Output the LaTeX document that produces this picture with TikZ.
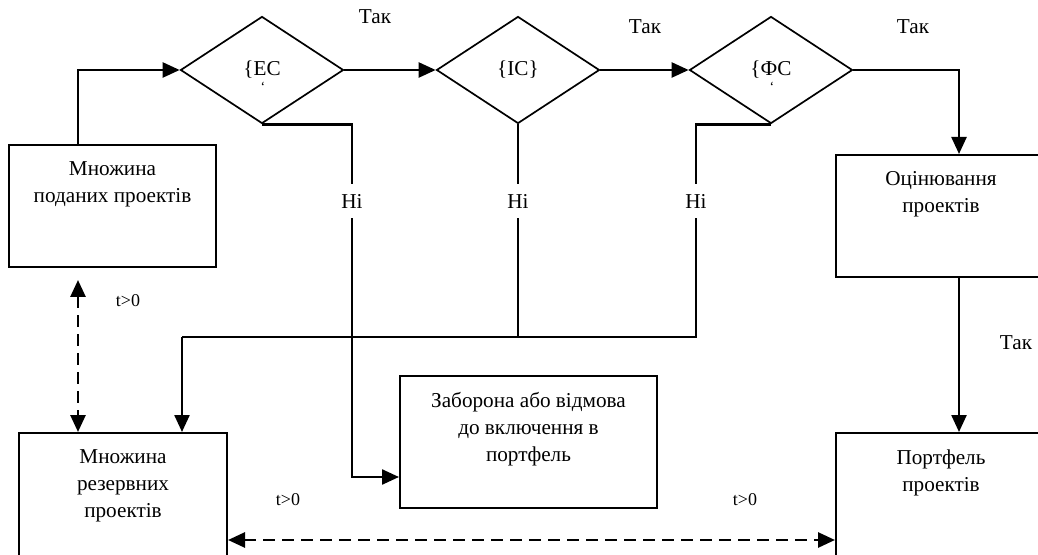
\documentclass[tikz,border=0pt]{standalone}
\usepackage{fontspec}
\setmainfont{Liberation Serif}
\usetikzlibrary{shapes.geometric,arrows.meta,fit}
\tikzset{
    box/.style={draw,line width=1pt,inner sep=0pt},
    boxtext/.style={anchor=north,align=center,inner sep=0pt,yshift=-8.5pt,
        font=\fontsize{10.6}{13.5}\selectfont},
    check/.style={
        diamond,
        draw,
        line width=0.85pt,
        minimum width=81.5pt,
        minimum height=53.5pt,
        inner sep=0pt,
        font=\fontsize{10.6}{12}\selectfont
    },
    wire/.style={line width=1.2pt},
    flow/.style={line width=1.2pt,-{Triangle[length=8.5pt,width=7.5pt]}},
    timed/.style={line width=1.4pt,dash pattern=on 6pt off 3.5pt,
        {Triangle[length=8.5pt,width=7.5pt]}-{Triangle[length=8.5pt,width=7.5pt]}},
    yes/.style={font=\fontsize{10.6}{12}\selectfont,inner sep=0pt},
    no/.style={font=\fontsize{10.6}{12}\selectfont,fill=white,inner xsep=1pt,inner ysep=5pt},
    tick/.style={font=\fontsize{9}{10}\selectfont,inner sep=0pt}
}
\newcommand{\block}[6] {
    \node[box,fit={(#2,#3) (#4,#5)}] (#1) {};
    \node[boxtext] (#1txt) at (#1.north) {#6};
}

\begin{document}
\begin{tikzpicture}[x=0.5pt,y=-0.5pt]
    \clip (0,0) rectangle (1038,555);
    % blocks
    \block{sub}{9}{145}{216}{267}{Множина\\поданих проектів}
    \block{assess}{836}{155}{1046}{277}{Оцінювання\\проектів}
    \block{reserve}{19}{433}{227}{570}{Множина\\резервних\\проектів}
    \block{reject}{400}{376}{657}{508}{Заборона або відмова\\до включення в\\портфель}
    \block{portfolio}{836}{433}{1046}{570}{Портфель\\проектів}
    % checks
    \node[check] (ec) at (262,70) {\{ЕС};
    \node[check] (ic) at (518,70) {\{ІС\}};
    \node[check] (fc) at (771,70) {\{ФС};
    \node[tick] (ecmark) at (263,87) {\scriptsize\symbol{96}};
    \node[tick] (fcmark) at (772,87) {\scriptsize\symbol{96}};
    % helper points
    \coordinate (subout) at (78,145);
    \coordinate (gap) at (78,280);
    \coordinate (no1) at (352,477);
    \coordinate (bus) at (182,337);
    \coordinate (bus3) at (696,337);
    \coordinate (tap) at (959,0);
    % yes path
    \draw[flow] (subout) |- (ec.west);
    \draw[flow] (ec.east) -- (ic.west);
    \draw[flow] (ic.east) -- (fc.west);
    \draw[flow] (fc.east) -| (tap |- assess.north);
    \draw[flow] (tap |- assess.south) -- (tap |- portfolio.north);
    % no paths
    \draw[flow] (ec.south) -| (no1) -- (no1 -| reject.west);
    \draw[wire] (ic.south) -- (ic.south |- bus);
    \draw[wire] (fc.south) -| (bus3) -- (bus);
    \draw[flow] (bus) -- (bus |- reserve.north);
    % time links
    \draw[timed] (gap) -- (gap |- reserve.north);
    \draw[timed] (reserve.east |- 0,540) -- (portfolio.west |- 0,540);
    % labels
    \node[yes] (yes1) at (375,17) {Так};
    \node[yes] (yes2) at (645,27) {Так};
    \node[yes] (yes3) at (913,27) {Так};
    \node[yes] (yes4) at (1016,343) {Так};
    \node[no] (no1txt) at (352,201) {Ні};
    \node[no] (no2txt) at (518,201) {Ні};
    \node[no] (no3txt) at (696,201) {Ні};
    \node[tick] (t1) at (128,301) {t>0};
    \node[tick] (t2) at (288,500) {t>0};
    \node[tick] (t3) at (745,500) {t>0};
\end{tikzpicture}
\end{document}
